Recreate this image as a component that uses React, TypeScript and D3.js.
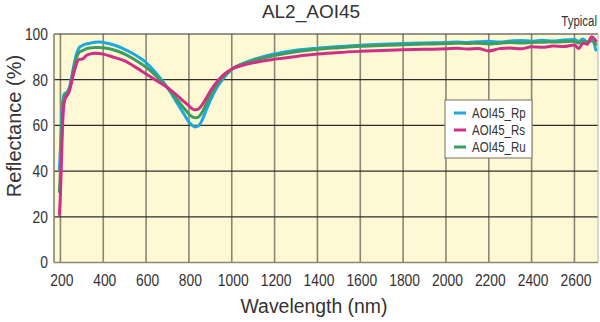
import React from "react";
import * as d3 from "d3";

const title = "AL2_AOI45";
const xTicks = [200, 400, 600, 800, 1000, 1200, 1400, 1600, 1800, 2000, 2200, 2400, 2600];
const yTicks = [0, 20, 40, 60, 80, 100];
const seriesNames = ["AOI45_Rp", "AOI45_Rs", "AOI45_Ru"];
const seriesColors = ["#1da8df", "#cf2f86", "#3c9e5c"];

const wavelengths = [
  195, 200, 205, 210, 215, 220, 230, 240, 250, 260, 270, 280, 290, 300, 310, 320, 340, 360, 380, 400,
  450, 500, 550, 600, 650, 700, 740, 770, 800, 815, 830, 845, 860, 880, 900, 930, 960, 1000, 1050, 1100,
  1150, 1200, 1300, 1400, 1500, 1600, 1700, 1800, 1900, 2000, 2050, 2100, 2150, 2200, 2250, 2300, 2350,
  2400, 2450, 2500, 2550, 2600, 2620, 2640, 2660, 2680, 2700,
];

const rp = [
  41, 50, 62, 70, 73, 74, 74.5, 76, 80, 85, 89.5, 92.5, 94.3, 94.8, 95.3, 95.6, 96, 96.4, 96.5, 96.3,
  95.2, 93.3, 90.8, 87.5, 82.5, 76.5, 70.5, 66, 61.5, 60, 59.3, 59.8, 62, 66.5, 71, 76.5, 80.5, 84.5, 87, 88.8,
  90.2, 91.3, 92.9, 93.8, 94.5, 95.1, 95.5, 95.8, 96.1, 96.3, 96.5, 96.3, 96.6, 96.8, 96.5, 96.9, 97.2,
  96.8, 97.3, 96.9, 97.4, 97.6, 96.8, 97.8, 96.5, 98, 93,
];

const rs = [
  21, 30, 45, 60, 68, 71, 73, 74.5, 78, 82, 85.5, 88.2, 89, 89, 89.5, 90.5, 91.3, 91.6, 91.5, 91.2,
  89.8, 88.2, 85.5, 82.5, 79.5, 76.5, 73.5, 71, 68.5, 67.3, 66.8, 67.2, 68.8, 71.8, 75, 79, 82, 84.7, 86.3, 87.4,
  88.3, 89, 90.2, 91.2, 91.9, 92.4, 92.8, 93.1, 93.3, 93.5, 93.8, 93.4, 93.7, 92.6, 93.6, 93.9, 93.5,
  94.4, 94.2, 94.7, 94.5, 95.2, 93.6, 96, 95.5, 98.8, 97,
];

const ru = [
  31, 40, 54, 66, 71, 73, 74, 75.5, 79, 84, 88, 90.8, 92.2, 92.6, 93, 93.5, 93.9, 94.1, 94.1, 94,
  93, 91.2, 88.6, 85.5, 81.3, 76.5, 71.8, 68.3, 65, 63.8, 63.3, 63.7, 65.5, 69.2, 73, 77.8, 81.3, 84.6, 86.8, 88.4,
  89.6, 90.6, 92.2, 93.3, 94, 94.6, 95, 95.3, 95.6, 95.8, 96, 95.8, 96, 95.6, 96, 96.3, 96.1,
  96.3, 96.4, 96.5, 96.6, 96.8, 96, 96.8, 96.4, 97, 95.5,
];

const seriesValues = [rp, rs, ru];

const W = 600;
const H = 322;
const L = 54, R = 598, T = 34, B = 262.5;

const regular = "'Liberation Sans', Arial, Helvetica, sans-serif";

function NarrowText(props: {
  x: number;
  y: number;
  size: number;
  anchor?: "start" | "middle" | "end";
  dy?: string;
  sx?: number;
  children: React.ReactNode;
}) {
  const { x, y, size, anchor = "start", dy, sx = 0.84, children } = props;
  return (
    <g transform={`translate(${x},${y}) scale(${sx},1)`}>
      <text x={0} y={0} dy={dy} textAnchor={anchor} fontFamily={regular} fontSize={size} fill="#333">
        {children}
      </text>
    </g>
  );
}

export default function App() {
  const x = d3.scaleLinear().domain([170, 2710]).range([L, R]);
  const y = d3.scaleLinear().domain([0, 100]).range([B, T]);
  const line = d3
    .line<[number, number]>()
    .x((d) => x(d[0]))
    .y((d) => y(d[1]))
    .curve(d3.curveMonotoneX);

  const order = [0, 2, 1];

  return (
    <svg
      width={W}
      height={H}
      style={{ position: "absolute", left: 0, top: 0, background: "#fff" }}
    >
      <defs>
        <clipPath id="plot">
          <rect x={L} y={T - 4} width={R - L + 2} height={B - T + 4} />
        </clipPath>
      </defs>
      <rect x={L} y={T} width={R - L} height={B - T} fill="#fff8d4" />
      {xTicks.map((t) => (
        <line key={"vx" + t} x1={x(t)} x2={x(t)} y1={T} y2={B} stroke="#8a8672" strokeWidth={1.6} />
      ))}
      {yTicks.map((t) => (
        <line key={"hy" + t} x1={L} x2={R} y1={y(t)} y2={y(t)} stroke="#2e2e2a" strokeWidth={1.2} />
      ))}
      <line x1={L} x2={L} y1={T} y2={B} stroke="#8a8672" strokeWidth={1.6} />
      <line x1={R} x2={R} y1={T} y2={B} stroke="#b8b4a0" strokeWidth={1} />
      <line x1={L} x2={R} y1={B} y2={B} stroke="#8a8672" strokeWidth={1.4} />

      <g clipPath="url(#plot)">
        {order.map((i) => (
          <path
            key={seriesNames[i]}
            d={line(wavelengths.map((w, k) => [w, seriesValues[i][k]]) as [number, number][]) || ""}
            fill="none"
            stroke={seriesColors[i]}
            strokeWidth={3}
            strokeLinejoin="round"
            strokeLinecap="round"
          />
        ))}
      </g>

      {xTicks.map((t) => (
        <NarrowText key={"xl" + t} x={x(t) + 1.5} y={286} size={16.5} anchor="middle">
          {t}
        </NarrowText>
      ))}
      {yTicks.map((t) => (
        <NarrowText key={"yl" + t} x={48} y={y(t)} dy="0.36em" size={16.5} anchor="end">
          {t}
        </NarrowText>
      ))}

      <text x={311} y={18} textAnchor="middle" fontFamily={regular} fontSize={19} fill="#333">
        {title}
      </text>
      <NarrowText x={597} y={26} size={14} anchor="end" sx={0.82}>
        Typical
      </NarrowText>
      <text
        transform={`translate(21,126) rotate(-90)`}
        textAnchor="middle"
        fontFamily={regular}
        fontSize={20}
        fill="#333"
      >
        Reflectance (%)
      </text>
      <text x={314} y={313} textAnchor="middle" fontFamily={regular} fontSize={19.4} fill="#333">
        Wavelength (nm)
      </text>

      <g>
        <rect x={445} y={100} width={87} height={58} fill="#fff" stroke="#8a8672" strokeWidth={1.2} />
        {seriesNames.map((n, i) => (
          <g key={n}>
            <line
              x1={454}
              x2={466}
              y1={113 + i * 17}
              y2={113 + i * 17}
              stroke={seriesColors[i]}
              strokeWidth={3}
            />
            <NarrowText x={472} y={113 + i * 17} dy="0.36em" size={14} sx={0.82}>
              {n}
            </NarrowText>
          </g>
        ))}
      </g>
    </svg>
  );
}
